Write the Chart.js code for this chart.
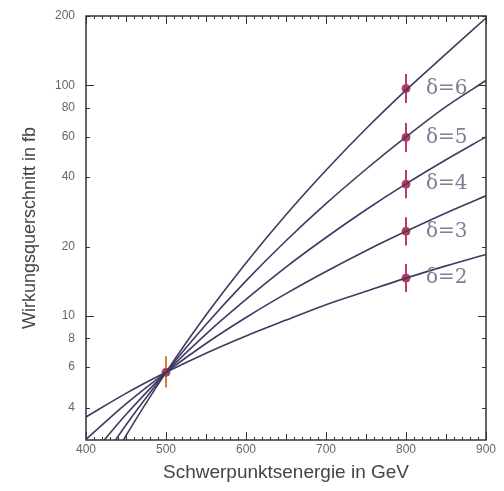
<!DOCTYPE html>
<html><head><meta charset="utf-8">
<script src="https://cdn.jsdelivr.net/npm/chart.js@4"></script>
<style>html,body{margin:0;padding:0;background:#fff}#wrap{width:504px;height:491px}</style>
</head><body><div id="wrap"><canvas id="c" width="504" height="491"></canvas></div>
<script>
// Energies (GeV)
const energies = [400, 450, 500, 550, 600, 650, 700, 750, 800, 850, 900];
// Cross sections (fb)
const delta2 = [3.65, 4.62, 5.7, 6.9, 8.2, 9.6, 11.2, 12.8, 14.6, 16.5, 18.5];
const delta3 = [2.92, 4.16, 5.7, 7.6, 9.85, 12.5, 15.6, 19.2, 23.3, 28.0, 33.2];
const delta4 = [2.33, 3.74, 5.7, 8.35, 11.8, 16.3, 21.9, 28.9, 37.4, 47.6, 59.8];
const delta5 = [1.87, 3.37, 5.7, 9.18, 14.2, 21.2, 30.7, 43.3, 59.8, 80.9, 105];
const delta6 = [1.49, 3.03, 5.7, 10.1, 17.0, 27.5, 42.9, 64.9, 95.4, 137, 196];
const curveLabels = ['δ=2', 'δ=3', 'δ=4', 'δ=5', 'δ=6'];
// Measured points with error bars
const measEnergy = [500, 800, 800, 800, 800, 800];
const measValue = [5.7, 14.6, 23.3, 37.3, 59.5, 97];
const measLow = [4.9, 12.7, 20.2, 32.4, 51.5, 84];
const measHigh = [6.7, 16.8, 26.8, 43.0, 68.7, 112];
const yTickLabels = [200, 100, 80, 60, 40, 20, 10, 8, 6, 4];
const xTickLabels = [400, 500, 600, 700, 800, 900];

const series = [delta2, delta3, delta4, delta5, delta6];
const lineColor = '#3c3b62';
const datasets = series.map((s, i) => ({
  type: 'line',
  label: curveLabels[i],
  data: energies.map((e, j) => ({x: e, y: s[j]})),
  borderColor: lineColor,
  borderWidth: 1.6,
  pointRadius: 0,
  cubicInterpolationMode: 'monotone',
  fill: false
}));
datasets.push({
  type: 'scatter',
  label: 'meas',
  data: measEnergy.map((e, i) => ({x: e, y: measValue[i]})),
  backgroundColor: '#b23a5a',
  borderColor: '#b23a5a',
  pointRadius: 4,
  pointHoverRadius: 4
});

const errPlugin = {
  id: 'err',
  beforeDatasetsDraw(chart) {
    const {ctx, scales: {x, y}} = chart;
    ctx.save();
    measEnergy.forEach((e, i) => {
      const px = x.getPixelForValue(e);
      ctx.strokeStyle = i === 0 ? '#e07a3a' : '#b8405e';
      ctx.lineWidth = 2;
      ctx.beginPath();
      ctx.moveTo(px, y.getPixelForValue(measLow[i]));
      ctx.lineTo(px, y.getPixelForValue(measHigh[i]));
      ctx.stroke();
    });
    ctx.restore();
  },
  afterDraw(chart) {
    const {ctx, chartArea: a, scales: {x, y}} = chart;
    ctx.save();
    ctx.strokeStyle = '#333';
    ctx.lineWidth = 1.5;
    ctx.strokeRect(a.left, a.top, a.right - a.left, a.bottom - a.top);
    ctx.lineWidth = 1;
    // x ticks inward (bottom and top)
    for (let v = 400; v <= 900; v += 10) {
      const px = Math.round(x.getPixelForValue(v)) + 0.5;
      const len = v % 100 === 0 ? 8 : (v % 50 === 0 ? 6 : 3);
      ctx.beginPath();
      ctx.moveTo(px, a.bottom); ctx.lineTo(px, a.bottom - len);
      ctx.moveTo(px, a.top); ctx.lineTo(px, a.top + len);
      ctx.stroke();
    }
    // y ticks inward (left and right)
    y.ticks.forEach(t => {
      const v = t.value;
      if (v < y.min || v > y.max) return;
      const py = Math.round(y.getPixelForValue(v)) + 0.5;
      const m = v / Math.pow(10, Math.floor(Math.log10(v) + 1e-9));
      const len = Math.abs(m - 1) < 1e-6 ? 8 : 4;
      ctx.beginPath();
      ctx.moveTo(a.left, py); ctx.lineTo(a.left + len, py);
      ctx.moveTo(a.right, py); ctx.lineTo(a.right - len, py);
      ctx.stroke();
    });
    // curve labels
    ctx.fillStyle = '#7e7c92';
    ctx.font = '20px "DejaVu Serif", "Liberation Serif", serif';
    ctx.textBaseline = 'middle';
    ctx.textAlign = 'left';
    for (let i = 1; i < measEnergy.length; i++) {
      const px = x.getPixelForValue(measEnergy[i]) + 20;
      const py = y.getPixelForValue(measValue[i]);
      ctx.fillText(curveLabels[i - 1], px, py);
    }
    ctx.restore();
  }
};

new Chart(document.getElementById('c'), {
  data: {datasets},
  options: {
    responsive: false,
    animation: false,
    events: [],
    layout: {padding: {top: 16, right: 18, left: 0, bottom: 0}},
    plugins: {legend: {display: false}, tooltip: {enabled: false}},
    scales: {
      x: {
        type: 'linear', min: 400, max: 900,
        afterFit(s) { s.height = 51; },
        grid: {display: false},
        border: {display: false},
        ticks: {
          stepSize: 100, autoSkip: false, maxRotation: 0, padding: -6,
          color: '#666', font: {family: 'Liberation Sans, Arial', size: 12},
          callback: v => xTickLabels.includes(v) ? String(v) : null
        },
        title: {display: true, text: 'Schwerpunktsenergie in GeV', color: '#444',
          font: {family: 'Liberation Sans, Arial', size: 19}, padding: {top: 4, bottom: 7}}
      },
      y: {
        type: 'logarithmic', min: 2.9, max: 200,
        afterFit(s) { s.width = 86; },
        grid: {display: false},
        border: {display: false},
        ticks: {
          autoSkip: false, padding: 3,
          color: '#666', font: {family: 'Liberation Sans, Arial', size: 12},
          callback: v => yTickLabels.some(t => Math.abs(t - v) < 1e-6) ? String(Math.round(v)) : null
        },
        afterBuildTicks(s) {
          const ts = [];
          [1, 10, 100].forEach(d => { for (let k = 1; k <= 9; k++) { const v = k * d; if (v >= 2.9 && v <= 200) ts.push({value: v}); } });
          s.ticks = ts;
        },
        title: {display: true, text: 'Wirkungsquerschnitt in fb', color: '#444',
          font: {family: 'Liberation Sans, Arial', size: 18}, padding: {top: 19, bottom: 6}}
      }
    }
  },
  plugins: [errPlugin]
});
</script></body></html>
